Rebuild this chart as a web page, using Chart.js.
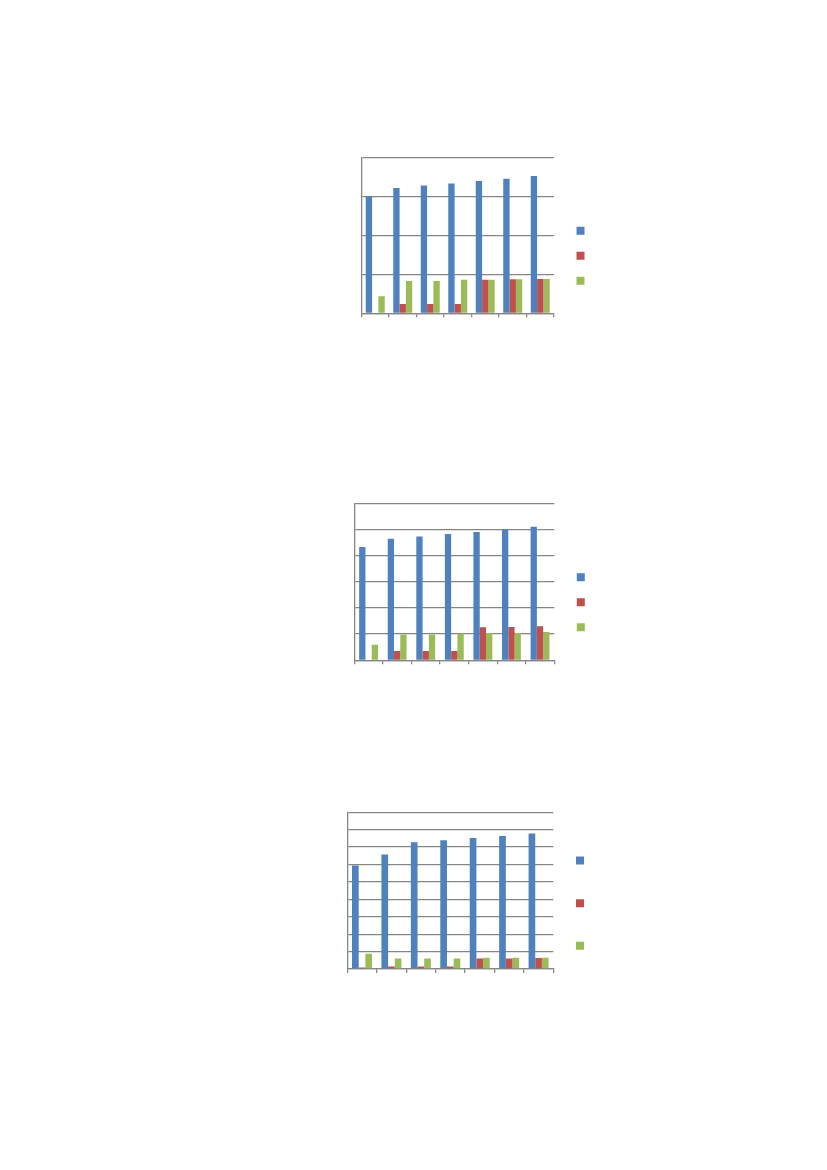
<!DOCTYPE html>
<html lang="en">
<head>
    <meta charset="UTF-8">
    <title>Charts</title>
    <script src="https://cdn.jsdelivr.net/npm/chart.js"></script>
    <style>
        body {
            margin: 0;
            background: #ffffff;
            width: 827px;
            height: 1170px;
            position: relative;
            overflow: hidden;
        }
        .box {
            position: absolute;
        }
    </style>
</head>
<body>

<div class="box" id="box1" style="left:330px; top:140px; width:270px; height:218px;"><canvas id="chart1"></canvas></div>
<div class="box" id="box2" style="left:330px; top:490px; width:270px; height:216px;"><canvas id="chart2"></canvas></div>
<div class="box" id="box3" style="left:330px; top:800px; width:278px; height:204px;"><canvas id="chart3"></canvas></div>

<script>
// categories (no visible labels in the picture)
const categories = ['1', '2', '3', '4', '5', '6', '7'];
const seriesNames = ['', '', ''];

// chart 1 (axis 0..4)
const blue1  = [3.00, 3.21, 3.28, 3.33, 3.39, 3.45, 3.52];
const red1   = [0.00, 0.24, 0.24, 0.24, 0.86, 0.87, 0.88];
const green1 = [0.44, 0.83, 0.83, 0.86, 0.86, 0.87, 0.88];

// chart 2 (axis 0..6)
const blue2  = [4.33, 4.65, 4.73, 4.83, 4.90, 5.00, 5.10];
const red2   = [0.00, 0.36, 0.36, 0.36, 1.26, 1.27, 1.30];
const green2 = [0.59, 0.99, 0.99, 1.02, 1.04, 1.04, 1.08];

// chart 3 (axis 0..9)
const blue3  = [5.94, 6.57, 7.28, 7.40, 7.53, 7.64, 7.78];
const red3   = [0.08, 0.15, 0.15, 0.15, 0.61, 0.61, 0.63];
const green3 = [0.88, 0.61, 0.61, 0.61, 0.65, 0.65, 0.65];

const colors = ['#4F81BD', '#C0504D', '#9BBB59'];
const gridColor = '#868686';

function makeChart(id, series, yMax, s) {
    const ctx = document.getElementById(id).getContext('2d');
    return new Chart(ctx, {
        type: 'bar',
        data: {
            labels: categories,
            datasets: series.map((vals, i) => ({
                label: seriesNames[i],
                data: vals,
                backgroundColor: colors[i],
                borderWidth: 0,
                categoryPercentage: s.catPct,
                barPercentage: 1.0
            }))
        },
        options: {
            responsive: true,
            maintainAspectRatio: false,
            animation: false,
            events: [],
            layout: { padding: s.pad },
            plugins: {
                tooltip: { enabled: false },
                legend: {
                    position: 'right',
                    labels: {
                        boxWidth: 8,
                        boxHeight: 8,
                        padding: s.legPad,
                        font: { size: s.legFont, lineHeight: 1 }
                    }
                }
            },
            scales: {
                x: {
                    grid: {
                        offset: true,
                        drawOnChartArea: false,
                        tickLength: 4,
                        color: gridColor,
                        lineWidth: 1.3
                    },
                    border: { color: gridColor, width: 1.3 },
                    ticks: { display: false },
                    afterFit: (scale) => { scale.height = s.xh; }
                },
                y: {
                    min: 0,
                    max: yMax,
                    ticks: { display: false, stepSize: 1 },
                    grid: { color: gridColor, lineWidth: 1.3, drawTicks: false },
                    border: { color: gridColor, width: 1.3 },
                    afterFit: (scale) => { scale.width = 0; }
                },
                // empty spacer between plot and legend
                gap: {
                    type: 'linear',
                    position: 'right',
                    display: s.gap > 0,
                    grid: { display: false },
                    border: { display: false },
                    ticks: { display: false },
                    afterFit: (scale) => { scale.width = s.gap; }
                }
            }
        }
    });
}

makeChart('chart1', [blue1, red1, green1], 4,
    { catPct: 0.69, pad: { left: 31.5, right: 4, top: 17.3, bottom: 4 }, legPad: 17, legFont: 3, xh: 40.7, gap: 5.5 });
makeChart('chart2', [blue2, red2, green2], 6,
    { catPct: 0.66, pad: { left: 24.3, right: 3.7, top: 13.3, bottom: 4.7 }, legPad: 17, legFont: 3, xh: 41, gap: 5.5 });
makeChart('chart3', [blue3, red3, green3], 9,
    { catPct: 0.68, pad: { left: 17.3, right: 4, top: 12.3, bottom: 10 }, legPad: 22.7, legFont: 20, xh: 25, gap: 0 });
</script>
</body>
</html>
